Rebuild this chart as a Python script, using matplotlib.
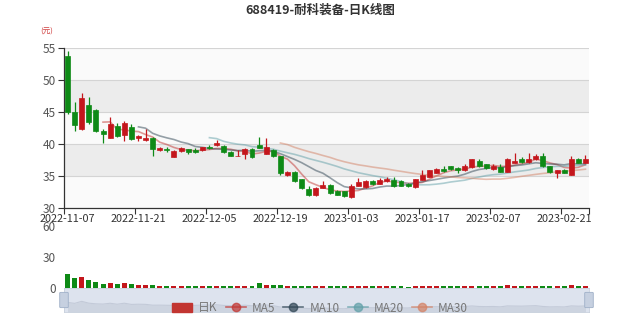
import numpy as np
import pandas as pd
import matplotlib
matplotlib.use("Agg")
import matplotlib.pyplot as plt
from matplotlib.patches import Patch, FancyBboxPatch
from matplotlib.lines import Line2D

plt.rcParams['font.family'] = ['Noto Sans CJK SC', 'DejaVu Sans']

dates = ["2022-11-07", "2022-11-21", "2022-12-05", "2022-12-19",
         "2023-01-03", "2023-01-17", "2023-02-07", "2023-02-21"]

opens = [53.7, 45.0, 42.4, 46.1, 45.3, 42.0, 41.0, 42.8, 41.4, 42.6,
         40.9, 40.6, 41.0, 39.0, 39.2, 38.0, 38.9, 39.2, 39.0, 39.0,
         39.5, 39.8, 39.7, 38.8, 38.1, 38.4, 39.2, 39.8, 38.5, 39.1,
         38.1, 35.1, 35.6, 34.5, 32.9, 32.0, 33.2, 33.6, 32.6, 32.6,
         31.7, 33.5, 33.3, 34.2, 33.8, 34.2, 34.4, 34.2, 33.8, 33.3,
         34.4, 34.9, 35.5, 36.1, 36.5, 36.3, 35.9, 36.4, 37.4, 36.8,
         36.1, 36.4, 35.7, 37.1, 37.7, 37.2, 37.6, 38.2, 36.5, 35.4,
         36.0, 35.2, 37.7, 37.1]
closes = [45.0, 43.0, 47.2, 43.4, 42.0, 41.5, 43.2, 41.2, 43.3, 40.8,
          41.2, 40.9, 39.2, 39.3, 39.0, 38.9, 39.3, 38.7, 38.8, 39.5,
          39.4, 40.1, 38.7, 38.2, 38.2, 39.2, 37.9, 39.4, 39.6, 38.1,
          35.4, 35.7, 34.2, 33.1, 32.1, 33.1, 33.6, 32.3, 32.1, 31.8,
          33.5, 34.0, 34.2, 33.8, 34.4, 34.6, 33.4, 33.5, 33.4, 34.5,
          35.2, 35.9, 36.1, 35.8, 36.1, 35.9, 36.5, 37.6, 36.5, 36.2,
          36.5, 35.7, 37.7, 37.4, 37.2, 37.7, 38.2, 36.5, 35.6, 35.9,
          35.5, 37.7, 37.1, 37.6]
lows = [44.7, 42.0, 42.2, 43.2, 41.9, 40.2, 40.9, 41.1, 40.4, 40.7,
        40.5, 40.5, 38.2, 38.9, 38.7, 37.9, 38.8, 38.4, 38.6, 38.9,
        39.2, 39.7, 38.6, 38.1, 38.1, 37.6, 37.8, 39.3, 38.4, 38.0,
        35.2, 35.0, 34.1, 33.0, 31.8, 31.9, 33.1, 32.2, 32.0, 31.7,
        31.6, 33.4, 33.2, 33.6, 33.7, 34.1, 33.3, 33.4, 33.3, 33.2,
        34.3, 34.8, 35.4, 35.6, 36.0, 35.5, 35.8, 36.3, 36.4, 36.1,
        36.0, 35.6, 35.6, 37.0, 37.1, 37.1, 37.5, 36.4, 35.5, 34.7,
        35.4, 35.1, 37.0, 37.0]
highs = [54.5, 46.5, 47.9, 47.4, 45.4, 42.4, 44.2, 43.3, 43.6, 43.1,
         41.4, 42.4, 41.1, 39.6, 39.6, 39.1, 39.6, 39.2, 39.4, 39.6,
         39.9, 40.7, 39.9, 38.9, 39.1, 39.4, 39.3, 41.1, 40.9, 39.2,
         38.2, 35.8, 35.8, 34.6, 33.5, 33.3, 34.2, 33.7, 32.8, 32.7,
         33.7, 34.7, 34.3, 34.4, 34.7, 34.8, 34.9, 34.3, 33.9, 34.6,
         36.0, 36.0, 36.2, 36.6, 36.6, 36.4, 36.8, 37.7, 37.7, 36.9,
         36.8, 36.9, 37.8, 38.6, 38.0, 38.6, 38.4, 38.6, 36.6, 36.0,
         36.1, 38.2, 37.8, 38.3]
volumes = [13.5, 9.4, 10.3, 7.9, 5.7, 3.9, 5.0, 3.9, 4.1, 3.1,
           2.2, 2.2, 2.2, 1.5, 1.5, 1.4, 1.4, 1.4, 1.4, 1.6,
           1.2, 1.6, 1.8, 1.4, 1.4, 2.0, 1.4, 4.1, 2.8, 2.2,
           2.2, 1.5, 1.4, 1.4, 1.5, 1.4, 1.3, 1.4, 1.3, 1.3,
           1.9, 1.8, 1.5, 1.4, 1.4, 1.4, 1.5, 1.4, 1.0, 1.7,
           1.7, 1.6, 1.6, 1.4, 1.4, 1.4, 1.4, 1.9, 1.5, 1.4,
           1.2, 1.3, 2.6, 1.8, 1.6, 1.8, 1.8, 1.6, 1.5, 1.4,
           1.4, 2.6, 1.4, 1.4]

ma_days = [5, 10, 20, 30]
ma_colors = ['#c23531', '#2f4554', '#61a0a8', '#d48265']
up_color = '#c4161c'
down_color = '#0e8a16'

n = len(closes)
x = np.arange(n)
o = np.array(opens)
c = np.array(closes)
up = c >= o
colors = np.where(up, up_color, down_color)

fig = plt.figure(figsize=(6.4, 3.2), dpi=100)
ax = fig.add_axes([64 / 640, 1 - 208 / 320, 525 / 640, 160 / 320])

# split area bands
for k, (a, b) in enumerate([(30, 35), (35, 40), (40, 45), (45, 50), (50, 55)]):
    ax.axhspan(a, b, color='#fafafa' if k % 2 == 0 else '#ececec', zorder=0, lw=0)
for v in [35, 40, 45, 50, 55]:
    ax.axhline(v, color='#d4d4d4', lw=0.8, zorder=1)

# candles
ax.vlines(x, lows, highs, colors=colors, lw=0.9, zorder=3)
body_bottom = np.minimum(o, c)
body_height = np.maximum(np.abs(c - o), 0.08)
ax.bar(x, body_height, bottom=body_bottom, width=0.7, color=colors,
       edgecolor=colors, lw=0.5, zorder=4)

# moving averages (same rule as the chart: first value at index == days)
s = pd.Series(closes)
for d, col in zip(ma_days, ma_colors):
    ma = s.rolling(d).mean()
    ma[:d] = np.nan
    ax.plot(x, ma, color=col, lw=1.2, alpha=0.5, zorder=2)

ax.set_xlim(-0.5, n - 0.5)
ax.set_ylim(30, 55)
ax.set_yticks([30, 35, 40, 45, 50, 55])
ax.set_xticks(np.arange(0, n, 10))
ax.set_xticklabels(dates)
ax.set_xticks(list(np.arange(-0.5, n, 10)) + [n - 0.5], minor=True)
ax.tick_params(axis='x', which='major', length=0, pad=4, labelsize=7.8, labelcolor='#333333')
ax.tick_params(axis='x', which='minor', length=4, color='#333333', width=0.8)
ax.tick_params(axis='y', length=4, color='#333333', width=0.8, labelsize=8.5,
               labelcolor='#555555', pad=2)
for sp in ['top', 'right']:
    ax.spines[sp].set_visible(False)
for sp in ['left', 'bottom']:
    ax.spines[sp].set_color('#333333')
    ax.spines[sp].set_linewidth(0.9)

fig.text(0.5, 1 - 10 / 320, '688419-耐科装备-日K线图', ha='center', va='center',
         fontsize=9, fontweight='bold', color='#333333')
fig.text(47 / 640, 1 - 32 / 320, '(元)', ha='center', va='center',
         fontsize=5.5, color='#d04040')

# volume panel
axv = fig.add_axes([64 / 640, 1 - 287.7 / 320, 525 / 640, 62 / 320])
axv.bar(x, volumes, width=0.7, color=colors, zorder=3)
axv.set_xlim(-0.5, n - 0.5)
axv.set_ylim(0, 60)
axv.set_yticks([0, 30, 60])
axv.set_xticks([])
axv.tick_params(axis='y', length=0, labelsize=8.5, labelcolor='#555555', pad=6)
for sp in axv.spines.values():
    sp.set_visible(False)
axv.patch.set_alpha(0)

# data zoom slider
axs = fig.add_axes([64 / 640, 1 - 312 / 320, 525 / 640, 24 / 320])
axs.set_facecolor('#dde3ee')
axs.fill_between(x, c, 25, color='#cdd4e0', lw=0)
axs.plot(x, c, color='#c3cad8', lw=0.8)
axs.set_xlim(-0.5, n - 0.5)
axs.set_ylim(25, 75)
axs.set_xticks([])
axs.set_yticks([])
for sp in axs.spines.values():
    sp.set_color('#c8d0dd')
    sp.set_linewidth(0.6)
for hx in [64, 589]:
    fig.patches.append(FancyBboxPatch(((hx - 3) / 640, 1 - 307 / 320), 6 / 640, 14 / 320,
                                      boxstyle='round,pad=0.002', transform=fig.transFigure,
                                      facecolor='#c6d0e0', edgecolor='#9fb0c8', lw=0.6,
                                      zorder=5))

handles = [Patch(facecolor='#c23531', edgecolor='#c23531', label='日K')]
for d, col in zip(ma_days, ma_colors):
    handles.append(Line2D([0], [0], color=col, lw=1.2, marker='o', markersize=6,
                          alpha=0.7, label='MA%d' % d))
leg = fig.legend(handles=handles, loc='center', bbox_to_anchor=(0.5, 1 - 308 / 320),
                 ncol=5, frameon=False, fontsize=8.5, handlelength=1.7,
                 handletextpad=0.5, columnspacing=0.7)
for t in leg.get_texts():
    t.set_color('#777777')

fig.savefig('out.png', dpi=100)
